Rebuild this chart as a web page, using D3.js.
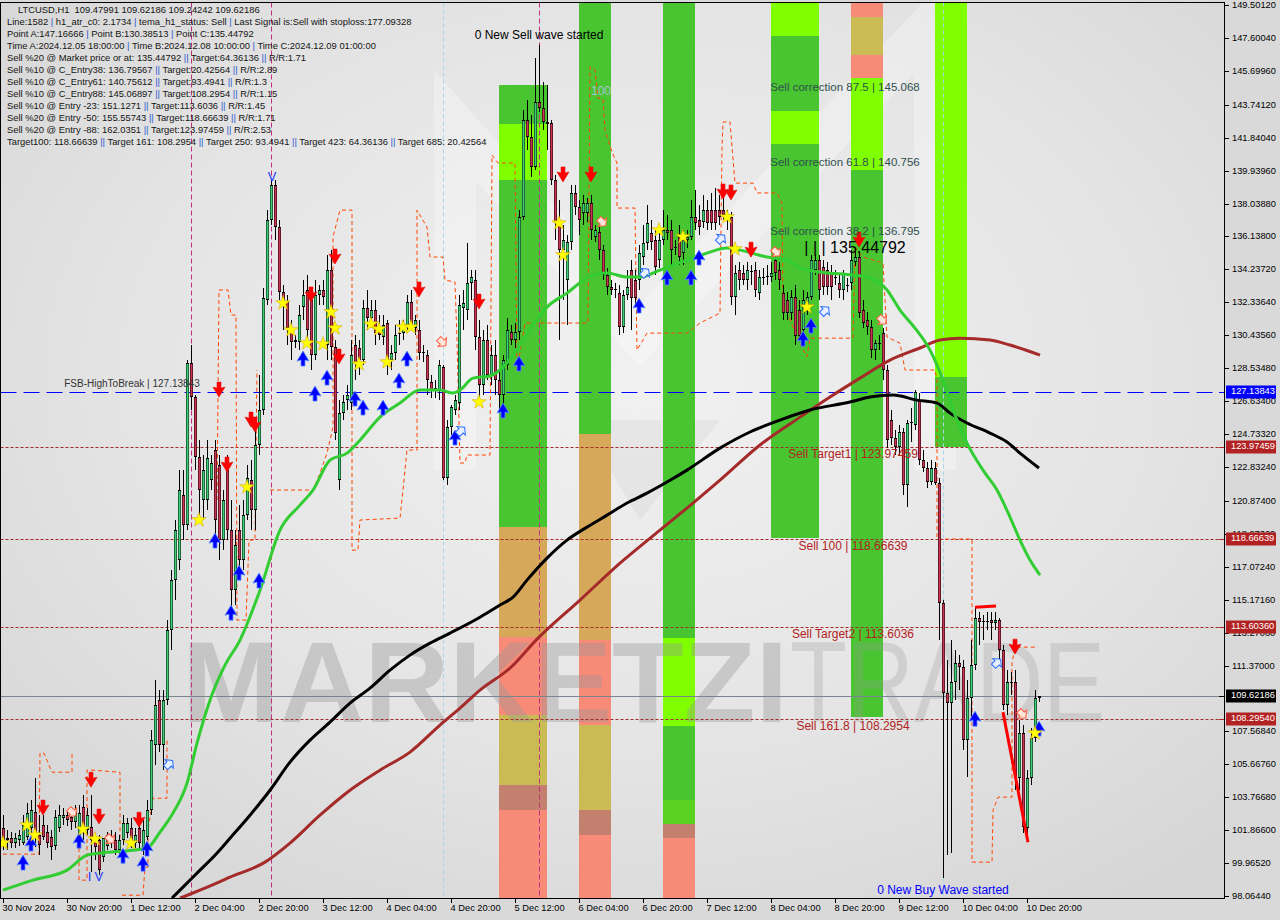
<!DOCTYPE html>
<html><head><meta charset="utf-8">
<script src="https://cdn.jsdelivr.net/npm/d3@7/dist/d3.min.js"></script>
<style>
html,body{margin:0;padding:0;background:#d9d9d9;}
svg{display:block;font-family:"Liberation Sans",Arial,sans-serif;}
text{white-space:pre;}
</style></head><body>
<svg id="chart" width="1280" height="920"></svg>
<script>
// ---------------- DATA ----------------
const headerLines = [
 "LTCUSD,H1  109.47991 109.62186 109.24242 109.62186",
 "Line:1582 | h1_atr_c0: 2.1734 | tema_h1_status: Sell | Last Signal is:Sell with stoploss:177.09328",
 "Point A:147.16666 | Point B:130.38513 | Point C:135.44792",
 "Time A:2024.12.05 18:00:00 | Time B:2024.12.08 10:00:00 | Time C:2024.12.09 01:00:00",
 "Sell %20 @ Market price or at: 135.44792 || Target:64.36136 || R/R:1.71",
 "Sell %10 @ C_Entry38: 136.79567 || Target:20.42564 || R/R:2.89",
 "Sell %10 @ C_Entry61: 140.75612 || Target:93.4941 || R/R:1.3",
 "Sell %10 @ C_Entry88: 145.06897 || Target:108.2954 || R/R:1.15",
 "Sell %10 @ Entry -23: 151.1271 || Target:113.6036 || R/R:1.45",
 "Sell %20 @ Entry -50: 155.55743 || Target:118.66639 || R/R:1.71",
 "Sell %20 @ Entry -88: 162.0351 || Target:123.97459 || R/R:2.53",
 "Target100: 118.66639 || Target 161: 108.2954 || Target 250: 93.4941 || Target 423: 64.36136 || Target 685: 20.42564"
];

// hourly bars, bar 0 = 30 Nov 2024 04:00
const opens = [
101.98,101.29,101.40,101.12,101.29,101.12,101.46,101.98,102.91,101.58,
102.16,101.75,101.46,100.96,101.98,102.56,102.73,102.62,102.33,101.46,
103.20,101.87,102.04,101.29,101.29,100.31,100.96,101.17,101.29,100.71,
101.29,101.69,101.98,101.12,101.98,100.71,101.46,103.02,106.77,109.37,
106.77,109.37,113.41,116.30,117.46,121.21,119.48,128.83,126.87,123.40,
120.92,120.92,122.07,123.81,122.94,118.61,122.65,119.19,115.72,119.19,
117.46,120.05,122.07,120.34,124.10,126.12,132.47,137.09,139.11,136.68,
132.93,132.35,130.85,130.04,130.04,132.06,133.05,132.47,129.29,132.76,
133.05,129.87,134.20,129.75,122.07,125.94,126.69,126.52,129.87,129.70,
129.00,132.00,131.43,131.89,130.85,130.33,131.14,129.00,129.41,130.56,
130.56,130.91,132.35,130.85,130.74,129.41,129.29,127.73,127.27,127.27,
128.60,122.19,125.13,126.12,126.52,132.00,131.89,133.45,133.62,130.33,
127.56,130.16,128.14,129.29,127.85,126.98,128.72,130.62,130.16,130.62,
137.26,142.86,141.88,140.15,143.90,143.55,142.75,142.69,139.40,136.91,
135.35,133.62,135.82,138.65,137.84,137.49,137.49,138.07,136.11,136.39,
135.35,133.91,133.22,133.05,132.87,130.91,132.76,134.20,133.62,133.62,
134.95,135.76,136.34,135.93,134.78,135.93,136.51,136.51,135.47,136.11,
135.18,135.93,136.11,137.26,137.09,136.97,137.66,137.66,137.66,137.66,
137.66,137.09,137.26,132.64,134.20,134.03,133.62,134.09,134.20,132.87,
133.80,133.80,133.80,134.78,134.20,132.87,132.47,131.72,132.64,131.89,
130.74,131.89,132.64,134.20,134.78,134.37,134.20,134.03,133.80,133.45,
133.05,133.33,133.45,134.66,134.95,131.89,131.31,130.91,129.58,129.99,
130.56,128.43,125.54,124.50,123.98,124.85,121.79,125.37,125.25,126.69,
123.23,122.77,121.96,122.77,121.90,114.97,109.78,109.20,110.41,111.51,
111.28,107.06,109.49,111.39,114.11,113.94,113.94,113.99,113.82,113.99,
112.26,109.08,110.41,110.41,104.87,107.47,101.98,104.87,107.18,109.47991];
const highs = [
102.73,101.87,101.75,101.69,101.87,102.73,103.43,103.60,104.87,102.73,
102.73,102.16,101.87,103.02,103.31,103.14,103.02,103.14,103.31,103.31,
103.89,103.14,103.89,101.58,101.58,101.40,101.75,101.87,101.75,101.58,
102.73,102.56,102.56,101.98,102.73,102.44,103.60,107.64,110.53,109.95,
109.95,113.99,116.88,119.77,122.65,122.65,128.99,129.87,126.98,124.38,
123.52,124.38,123.52,124.38,123.52,121.50,123.52,120.92,119.19,120.63,
120.92,122.94,123.23,125.54,128.14,133.16,137.66,139.40,139.40,137.09,
133.33,132.76,131.31,130.45,132.18,133.62,133.91,133.05,133.62,133.33,
133.62,135.07,135.35,130.16,126.69,126.98,127.56,130.16,130.45,130.16,
132.47,133.05,132.47,132.47,131.60,131.60,131.31,129.87,131.02,131.31,
131.31,132.76,133.05,131.60,131.31,129.87,129.58,128.14,127.85,129.00,
128.72,125.54,126.40,126.98,132.76,133.05,135.76,134.20,134.20,131.31,
130.74,131.02,129.87,130.16,128.43,129.29,131.43,131.02,131.14,137.66,
143.44,144.02,143.15,146.44,147.17,145.06,144.88,142.86,139.69,138.24,
136.80,136.22,139.11,139.11,138.24,138.53,138.36,138.53,136.80,136.80,
135.64,134.32,133.62,133.45,133.33,133.05,134.20,134.78,134.20,135.64,
136.80,137.95,137.09,136.51,136.51,137.66,137.38,137.09,135.93,136.80,
136.51,136.51,138.24,138.82,137.95,138.53,138.24,138.65,138.94,138.53,
138.82,137.66,137.55,134.49,134.66,134.49,134.66,134.49,134.66,134.20,
134.32,134.49,134.66,135.07,134.66,133.33,132.93,133.05,133.33,132.47,
133.05,132.93,135.07,135.07,135.07,134.78,134.66,134.49,134.20,133.91,
134.20,133.74,135.35,135.45,135.24,132.47,131.78,131.31,130.16,130.45,
130.85,128.72,126.12,124.96,125.25,125.08,125.54,126.23,127.30,127.10,
123.81,123.12,123.23,123.12,122.19,115.15,111.68,112.84,112.26,111.97,
111.68,110.53,112.84,114.68,114.45,114.28,114.45,114.45,114.45,114.11,
112.55,111.10,110.99,111.10,108.22,107.93,105.33,107.76,109.95,109.62186];
const lows = [
100.71,100.71,100.83,100.83,100.94,101.00,101.29,101.58,100.88,100.42,
101.29,100.83,100.13,100.71,101.75,102.16,102.10,101.87,101.98,101.29,
101.29,101.58,99.44,100.13,99.27,100.02,100.71,100.83,100.42,100.42,
101.00,101.40,100.83,100.83,100.71,100.42,101.29,102.73,105.62,106.37,
105.33,109.08,112.26,115.15,116.88,118.61,119.19,126.12,122.65,119.77,
119.77,120.34,121.50,118.32,117.46,118.03,118.61,113.99,114.86,116.59,
116.88,119.77,119.19,119.19,123.52,125.83,132.18,136.80,135.93,132.47,
130.74,129.87,129.00,129.70,129.58,131.31,130.16,128.43,129.00,132.18,
132.18,129.00,129.00,124.38,121.50,125.54,126.12,126.12,127.85,128.14,
128.72,130.74,131.02,129.87,130.16,129.87,128.14,128.43,129.00,129.87,
130.16,130.74,130.74,130.45,129.00,128.89,126.98,126.81,126.81,126.69,
122.07,121.79,124.67,125.83,126.12,130.74,131.31,132.47,129.58,126.69,
126.98,127.85,127.56,126.98,126.12,126.00,128.43,129.87,129.70,130.16,
137.09,141.13,139.57,139.97,143.32,142.28,141.13,139.11,135.93,130.16,
132.47,131.02,135.35,137.38,136.22,136.80,136.97,135.93,135.82,134.78,
133.62,132.76,132.76,132.58,130.45,130.56,132.47,130.74,132.18,133.05,
134.49,135.35,135.35,133.91,134.32,135.64,135.93,134.49,135.07,134.49,
134.49,135.47,135.93,136.51,136.22,136.62,136.51,136.51,136.51,136.80,
137.09,136.51,132.18,131.60,133.05,133.33,133.05,133.33,132.64,132.47,
133.33,133.33,133.51,133.62,133.05,131.31,131.31,131.31,129.87,130.16,
130.45,131.60,132.47,133.91,132.47,132.76,132.76,132.47,133.33,132.58,
132.47,132.93,133.05,134.43,131.43,130.85,130.45,129.12,129.00,129.58,
127.85,123.92,124.10,123.52,123.52,121.21,120.52,124.27,124.96,122.94,
122.54,121.61,121.79,121.79,112.84,99.10,100.42,100.54,109.37,109.95,
106.48,104.93,108.22,111.10,112.55,112.84,113.41,112.84,113.41,111.68,
108.79,108.51,109.66,104.17,104.17,101.69,101.58,104.46,106.95,109.24242];
const closes = [
101.29,101.40,101.12,101.40,101.58,102.16,102.85,103.02,101.58,101.00,
101.46,101.12,100.88,102.62,102.73,102.73,102.44,102.33,102.91,102.85,
101.75,102.73,101.29,100.88,99.56,101.40,101.58,101.40,100.71,101.29,
102.27,102.27,101.12,101.58,101.12,101.87,103.02,107.06,109.08,106.77,
109.37,113.41,116.30,119.19,121.50,119.48,128.83,126.87,123.40,121.50,
122.65,123.35,123.06,119.77,118.61,120.92,119.19,115.72,118.32,117.46,
120.05,122.19,120.34,124.10,126.12,132.58,137.09,139.11,136.68,132.93,
132.35,130.85,130.04,130.16,131.60,132.76,130.74,129.29,132.76,133.05,
132.64,134.20,129.75,124.79,125.94,126.58,126.98,129.29,128.83,129.00,
132.00,131.43,131.89,130.56,130.45,131.02,129.00,129.41,130.45,130.50,
130.91,132.35,131.02,131.31,129.41,129.47,127.85,127.27,127.39,128.72,
122.19,125.13,126.29,126.69,132.18,132.29,133.45,133.80,130.33,127.56,
130.16,128.14,129.29,127.85,126.98,129.00,130.74,130.16,130.62,137.26,
142.86,141.88,140.15,143.90,143.55,142.75,142.63,139.40,136.91,135.35,
135.93,135.82,138.65,137.84,137.09,138.07,138.07,136.51,136.51,135.35,
133.91,133.22,133.05,133.10,130.91,132.76,133.22,132.58,132.58,135.18,
135.76,136.91,135.82,134.37,135.93,136.51,136.34,135.35,135.53,134.95,
135.93,136.11,137.26,136.91,136.68,137.66,136.91,136.91,136.91,137.26,
137.38,137.26,132.64,134.03,133.62,133.62,134.20,134.14,133.05,133.80,
133.76,133.85,134.03,134.03,133.62,131.72,131.72,132.64,130.39,130.39,
132.47,132.64,134.78,134.78,133.05,133.22,133.22,133.22,133.76,133.05,
134.03,133.30,134.78,134.95,131.72,131.14,130.91,129.58,129.99,129.95,
128.43,124.38,124.50,123.98,124.85,121.79,125.37,125.42,127.16,123.23,
122.77,121.96,122.77,121.90,114.97,109.78,109.20,110.41,111.51,111.28,
107.06,109.49,111.39,114.11,113.88,113.92,113.96,113.82,113.99,112.26,
109.08,110.41,110.38,104.87,107.47,102.04,104.87,107.18,109.49,109.62186];

const timeTickBars = [0,16,32,48,64,80,96,112,128,144,160,176,192,208,224,240,256];
const timeTickLabels = ["30 Nov 2024","30 Nov 20:00","1 Dec 12:00","2 Dec 04:00","2 Dec 20:00","3 Dec 12:00","4 Dec 04:00","4 Dec 20:00","5 Dec 12:00","6 Dec 04:00","6 Dec 20:00","7 Dec 12:00","8 Dec 04:00","8 Dec 20:00","9 Dec 12:00","10 Dec 04:00","10 Dec 20:00"];
const priceTicks = [149.5012,147.6004,145.6996,143.7412,141.8404,139.9396,138.0388,136.1380,134.2372,132.3364,130.4356,128.5348,126.6340,124.7332,122.8324,120.8740,118.9732,117.0724,115.1716,113.2708,111.3700,107.5684,105.6676,103.7668,101.8660,99.9652,98.0644];

// moving averages: [bar, price]
const maGreen = [[0,98.40],[7.5,98.98],[16,99.56],[21,100.42],[24.25,100.54],[32.5,100.71],[36,100.83],[39.25,101.75],[42.5,102.85],[46,104.58],[48.5,106.89],[51.75,109.37],[55.5,111.39],[59.25,112.84],[64.25,115.72],[69.25,119.19],[74.25,120.63],[77.5,121.50],[81.75,123.23],[86,123.63],[89.25,124.38],[94.25,125.71],[99.25,126.52],[104.25,127.27],[109.25,127.27],[112.5,127.10],[114.25,127.27],[117.5,127.96],[121.75,128.08],[125.5,128.71],[129.25,129.87],[133,131.20],[136,132.06],[141,132.87],[146,133.74],[151,134.03],[156,133.80],[159.25,133.80],[164.25,134.20],[171,134.78],[176,135.18],[181,135.47],[184.25,135.35],[191,134.95],[196,134.78],[199.25,134.32],[204.25,134.09],[212.5,133.91],[216,133.80],[221,133.05],[224.25,131.89],[228,130.85],[231.75,129.58],[235,127.85],[238,125.83],[241,124.21],[245,122.65],[248.5,121.50],[251.75,119.94],[254.25,118.61],[256.75,117.46],[259.25,116.59]];
const maBlack = [[42.25,97.94],[45.5,98.69],[49.25,99.56],[53,100.42],[56.75,101.40],[61.75,102.73],[66.75,104.17],[71.75,105.79],[76.75,107.06],[81.75,108.10],[86.75,109.20],[91.75,110.06],[96.75,111.10],[101.75,111.97],[106.75,112.66],[111.75,113.24],[119.25,114.16],[124.25,114.86],[127.5,115.32],[131,116.30],[136,117.57],[141,118.61],[146,119.36],[151,120.05],[156,120.75],[161,121.32],[166,121.96],[171,122.65],[179.25,123.92],[186.75,124.85],[194.25,125.54],[201.75,126.12],[211.75,126.58],[216.75,126.87],[222.5,126.98],[228.5,126.69],[233.5,126.52],[236.75,125.94],[241,125.37],[246.75,124.79],[251,124.27],[254.25,123.63],[259,122.77]];
const maBrown = [[44.25,97.94],[49.25,98.40],[56.75,99.15],[65.5,100.02],[71.75,101.12],[79.25,102.73],[86.75,104.17],[94.25,105.33],[101.75,106.37],[109.25,107.93],[114.25,108.91],[119.25,109.95],[126.75,111.22],[133.75,112.95],[144.25,115.15],[154.25,117.28],[164.25,119.19],[172.5,120.75],[179.25,122.07],[189.25,124.10],[199.25,125.71],[206.75,126.87],[214.25,127.96],[221.75,129.00],[229.25,129.70],[234.25,130.16],[239.25,130.27],[246.75,130.16],[251.75,129.87],[259.25,129.29]];

// orange dashed envelope segments: [bar, price]
const orangePaths = [
 [[0,100.48],[9,100.48],[9.25,106.31],[10.25,106.31],[12.25,105.21],[17.25,105.21],[17.25,106.31]],
 [[19,102.44],[19,98.98],[21,98.98],[21,105.33],[22.25,105.33],[29.25,105.21],[29.25,100.42]],
 [[29.75,98.11],[35,98.11],[35.5,99.73],[36.25,99.73],[36.25,101.87],[37.5,103.71],[41,103.71],[41,107.06]],
 [[53.5,120.92],[54,133.05],[56.25,133.05],[57,131.60],[58.25,131.60],[58.5,113.99],[60.75,113.99],[61.5,118.61],[63,118.61],[63.5,128.43]],
 [[66.75,121.50],[77.5,121.50],[79.25,122.48],[81,123.63],[82.5,125.14],[82.5,136.11],[84.25,137.66],[87.25,137.66],[87.25,118.03],[88.75,118.03],[89.25,119.77],[99.25,119.88],[100,121.50],[101,123.81],[103.5,123.81],[103.5,137.66],[106,136.68],[106.75,134.95],[110,134.95],[110.5,133.62],[113,133.51],[113.5,130.16],[114.25,123.06],[115.5,123.06],[116,123.52],[121.75,123.52],[122.25,140.84],[123.75,140.38],[128,140.38],[128.5,128.43]],
 [[128.5,128.43],[130.5,131.14],[146.25,131.14],[146.75,145.92],[148,145.75],[148.75,144.13],[150,144.07],[150.5,142.28],[152.25,141.01],[153.5,140.38],[153.5,137.78],[158,137.78],[158.5,129.58],[161,130.56],[171,130.56],[174.25,131.14],[179.25,131.72],[179.75,141.30],[180,142.75],[181.75,142.75],[183,139.22],[187.5,139.22],[188.5,138.65],[193.5,138.65],[194.75,138.07],[195,132.29],[199.25,129.98],[201,129.18],[201.75,130.27],[212.5,130.27],[213,135.53],[215,134.95],[220,134.60],[221,130.33],[224.25,129.98],[225.5,128.43],[233,128.43],[233.5,127.85],[233.5,118.67],[242.25,118.67],[242.25,100.02],[247.25,100.02],[247.5,103.02],[248.75,103.77],[252.25,103.77],[252.25,111.51],[253,112.43],[258.75,112.43]]
];

// coloured time zones (bar ranges) and their price bands
const zoneSpans = [[124,136],[144,152],[165,173],[192,204],[212,220],[233,241]];
const zoneBands = [
 [[144.88,142.63,"g"],[142.63,139.40,"l"],[139.40,119.36,"g"],[119.36,113.01,"t"],[113.01,108.51,"s"],[108.51,104.46,"o"],[104.46,103.02,"b"],[103.02,97.9,"s"]],
 [[149.62,124.73,"g"],[124.73,112.84,"t"],[112.84,107.93,"s"],[107.93,103.02,"o"],[103.02,101.58,"b"],[101.58,97.9,"s"]],
 [[149.62,112.95,"g"],[112.95,107.87,"l"],[107.87,103.60,"g"],[103.60,102.21,"g2"],[102.21,101.40,"b"],[101.40,97.9,"s"]],
 [[149.62,147.7,"l"],[147.7,143.4,"g"],[143.4,141.5,"l"],[141.5,118.73,"g"]],
 [[149.62,148.8,"s"],[148.8,146.6,"o"],[146.6,145.3,"s"],[145.3,140.0,"l"],[140.0,108.39,"g"]],
 [[149.62,128.0,"l"],[128.0,123.98,"g"]]
];

// horizontal levels
const fsbLevel = 127.13843;
const sellLevels = [123.97459,118.66639,113.60360,108.29540];
const sellLabels = ["Sell Target1 | 123.97459","Sell 100 | 118.66639","Sell Target2 | 113.6036","Sell 161.8 | 108.2954"];
const axisBoxLabels = ["123.97459","118.66639","113.60360","108.29540"];
const corrLevels = [145.068,140.756,136.795];
const corrLabels = ["Sell correction 87.5 | 145.068","Sell correction 61.8 | 140.756","Sell correction 38.2 | 136.795"];
const lastPrice = 109.62186;
const pointCPrice = 135.44792;

// vertical markers (bars)
const magentaBars = [47,67,134];
const cyanBars = [110,235];

// signals: [bar, price]
const sellArrows = [[10,103.14],[22,104.75],[24,102.62],[34,102.44],[54,127.27],[56,122.94],[62,125.54],[63,125.25],[77,132.76],[83,134.95],[84,129.18],[104,133.05],[119,132.35],[140,139.69],[147,139.69],[180,138.70],[182,138.65],[187,135.35],[214,135.93],[253,112.43]];
const buyArrows = [[5,100.02],[7,101.12],[19,101.29],[30,100.42],[35,99.96],[36,100.83],[53,118.61],[57,114.45],[59,116.76],[64,116.30],[75,129.12],[78,127.10],[81,128.02],[88,126.81],[90,126.29],[95,126.29],[99,127.85],[101,129.12],[113,124.56],[125,126.12],[129,128.83],[159,132.18],[166,133.80],[172,133.80],[174,134.95],[200,130.27],[202,131.02],[243,108.33],[259,107.76]];
const stars = [[0,101.12],[6,102.16],[8,101.58],[20,101.92],[23,101.35],[32,101.12],[49,119.77],[61,121.67],[70,132.29],[72,130.74],[76,129.99],[80,129.93],[82,131.78],[83,130.85],[89,128.77],[92,131.08],[94,130.79],[96,128.89],[100,130.91],[102,130.91],[119,126.58],[139,136.91],[140,135.07],[164,136.51],[170,136.11],[181,137.26],[183,135.41],[201,132.06],[258,107.47]];
const sellHollow = [[17.5,103.02],[27,101.46],[110,130.16],[150,137.09],[193.5,135.35],[220,131.43],[255,108.68]];
const buyHollow = [[41,105.73],[114,124.96],[160,134.09],[179,136.05],[205,131.89],[248,111.57]];
const redLines = [[[243,114.74],[248.25,114.80]],[[250,108.68],[256.25,101.17]]];
const waveLabels = [["V",67.25,139.55],["IV",23.5,99.1]];

// ---------------- DRAW ----------------
const svg = d3.select("#chart");
const PL=0.5, PR=1224.5, PT=2.5, PB=898.5;
const x = d3.scaleLinear().domain([0,259]).range([3,1039]);
const y = d3.scaleLinear().domain([98.0644,149.5012]).range([896,5]);

const defs = svg.append("defs");
const rg = defs.append("radialGradient").attr("id","bg").attr("cx","52%").attr("cy","42%").attr("r","70%");
rg.append("stop").attr("offset","0%").attr("stop-color","#f1f1f1");
rg.append("stop").attr("offset","60%").attr("stop-color","#e4e4e4");
rg.append("stop").attr("offset","100%").attr("stop-color","#d6d6d6");
defs.append("clipPath").attr("id","clip").append("rect").attr("x",PL).attr("y",PT).attr("width",PR-PL).attr("height",PB-PT);

svg.append("rect").attr("width",1280).attr("height",920).attr("fill","#d9d9d9");
svg.append("rect").attr("x",PL).attr("y",PT).attr("width",PR-PL).attr("height",PB-PT).attr("fill","url(#bg)");

const plot = svg.append("g").attr("clip-path","url(#clip)");

// big faint logo
const logo = plot.append("g").attr("fill","none").attr("stroke-linejoin","miter");
logo.append("path").attr("d","M455,470 L455,125 L640,335 L935,20 L935,470")
  .attr("stroke","rgba(255,255,255,0.28)").attr("stroke-width",42);
logo.append("path").attr("d","M580,420 L640,520 L720,420 Z").attr("fill","rgba(0,0,0,0.035)");

// zones
const zoneColor = {g:"#48c530",l:"#7fff00",t:"#d6a95a",s:"#f88b78",o:"#cbbb55",b:"#c4806e",g2:"#5ad222"};
const zg = plot.append("g").attr("shape-rendering","crispEdges");
zoneSpans.forEach((sp,k)=>{
  zoneBands[k].forEach(b=>{
    zg.append("rect").attr("x",x(sp[0])).attr("width",x(sp[1])-x(sp[0]))
      .attr("y",y(b[0])).attr("height",y(b[1])-y(b[0])).attr("fill",zoneColor[b[2]]);
  });
});

// watermark
plot.append("text").attr("x",182).attr("y",722).attr("font-size",115).attr("font-weight","bold")
  .attr("textLength",606).attr("lengthAdjust","spacingAndGlyphs")
  .attr("fill","rgba(150,150,150,0.38)").text("MARKETZI");
plot.append("text").attr("x",790).attr("y",722).attr("font-size",115)
  .attr("textLength",315).attr("lengthAdjust","spacingAndGlyphs")
  .attr("fill","rgba(150,150,150,0.28)").text("TRADE");

// vertical lines
magentaBars.forEach(b=>plot.append("line").attr("x1",x(b)+0.5).attr("x2",x(b)+0.5).attr("y1",PT).attr("y2",PB)
  .attr("stroke","#c0307a").attr("stroke-dasharray","5,3"));
cyanBars.forEach(b=>plot.append("line").attr("x1",x(b)+0.5).attr("x2",x(b)+0.5).attr("y1",PT).attr("y2",PB)
  .attr("stroke","#a9d6e6").attr("stroke-dasharray","4,3"));

// horizontal levels
plot.append("line").attr("x1",PL).attr("x2",PR).attr("y1",Math.round(y(fsbLevel))+0.5).attr("y2",Math.round(y(fsbLevel))+0.5)
  .attr("stroke","#0000ff").attr("stroke-dasharray","16,7");
sellLevels.forEach(v=>plot.append("line").attr("x1",PL).attr("x2",PR).attr("y1",Math.round(y(v))+0.5).attr("y2",Math.round(y(v))+0.5)
  .attr("stroke","#a52a2a").attr("stroke-dasharray","3,2"));
plot.append("line").attr("x1",PL).attr("x2",PR).attr("y1",Math.round(y(lastPrice))+0.5).attr("y2",Math.round(y(lastPrice))+0.5)
  .attr("stroke","#7b8591");

// orange envelope
const lineGen = d3.line().x(d=>x(d[0])).y(d=>y(d[1]));
orangePaths.forEach(p=>plot.append("path").attr("d",lineGen(p)).attr("fill","none")
  .attr("stroke","#ff4500").attr("stroke-width",1).attr("stroke-dasharray","4,3"));

// candles
const bars = d3.range(opens.length).map(i=>({i,o:opens[i],h:highs[i],l:lows[i],c:closes[i]}));
const cg = plot.append("g");
cg.selectAll("rect.wick").data(bars).join("rect").attr("class","wick").attr("shape-rendering","crispEdges")
  .attr("x",d=>Math.round(x(d.i))).attr("width",1)
  .attr("y",d=>Math.round(y(d.h))).attr("height",d=>Math.max(1,Math.round(y(d.l))-Math.round(y(d.h))))
  .attr("fill","#000");
cg.selectAll("rect.body").data(bars).join("rect").attr("class","body").attr("shape-rendering","crispEdges")
  .attr("x",d=>Math.round(x(d.i))-1).attr("width",3)
  .attr("y",d=>Math.round(Math.min(y(d.o),y(d.c))))
  .attr("height",d=>Math.max(1,Math.round(Math.abs(y(d.o)-y(d.c)))))
  .attr("fill","#000");
cg.selectAll("rect.fill").data(bars.filter(d=>Math.abs(y(d.o)-y(d.c))>2.5)).join("rect").attr("class","fill")
  .attr("x",d=>Math.round(x(d.i))-0.5).attr("width",2)
  .attr("y",d=>Math.round(Math.min(y(d.o),y(d.c)))+1)
  .attr("height",d=>Math.round(Math.abs(y(d.o)-y(d.c)))-2)
  .attr("fill",d=>d.c>=d.o?"#3ccf78":"#cc3352");

// moving averages
const smooth = d3.line().x(d=>x(d[0])).y(d=>y(d[1])).curve(d3.curveMonotoneX);
plot.append("path").attr("d",smooth(maBrown)).attr("fill","none").attr("stroke","#a52a2a").attr("stroke-width",3);
plot.append("path").attr("d",smooth(maBlack)).attr("fill","none").attr("stroke","#000").attr("stroke-width",3);
plot.append("path").attr("d",smooth(maGreen)).attr("fill","none").attr("stroke","#32cd32").attr("stroke-width",3);

// thick red pattern lines
redLines.forEach(l=>plot.append("path").attr("d",lineGen(l)).attr("stroke","#ff0000").attr("stroke-width",3).attr("fill","none"));

// markers
const mg = plot.append("g");
sellArrows.forEach(([b,p])=>{
  const cx=x(b), cy=y(p);
  mg.append("path").attr("d",`M${cx-2},${cy-8} L${cx+2},${cy-8} L${cx+2},${cy-2} L${cx+6},${cy-3} L${cx},${cy+7} L${cx-6},${cy-3} L${cx-2},${cy-2} Z`)
    .attr("fill","#ff0000").attr("stroke","#e01010").attr("stroke-width",0.6);
});
buyArrows.forEach(([b,p])=>{
  const cx=x(b), cy=y(p);
  mg.append("path").attr("d",`M${cx-2},${cy+8} L${cx+2},${cy+8} L${cx+2},${cy+2} L${cx+6},${cy+3} L${cx},${cy-7} L${cx-6},${cy+3} L${cx-2},${cy+2} Z`)
    .attr("fill","#0000ff").attr("stroke","#5a8cff").attr("stroke-width",0.8);
});
const starPath = d3.symbol().type(d3.symbolStar).size(65);
stars.forEach(([b,p])=>mg.append("path").attr("d",starPath()).attr("transform",`translate(${x(b)},${y(p)})`)
  .attr("fill","#ffff00").attr("stroke","#d0a000").attr("stroke-width",0.5));
const hollowArrow = "M-4,-1 L1,-1 L1,-4 L6,2 L1,8 L1,5 L-4,5 Z";
sellHollow.forEach(([b,p])=>mg.append("path").attr("d",hollowArrow)
  .attr("transform",`translate(${x(b)},${y(p)}) rotate(45)`).attr("fill","#ffe4dc").attr("stroke","#ff5a3c").attr("stroke-width",1));
buyHollow.forEach(([b,p])=>mg.append("path").attr("d",hollowArrow)
  .attr("transform",`translate(${x(b)},${y(p)}) rotate(-45)`).attr("fill","#e6f0ff").attr("stroke","#2a6cff").attr("stroke-width",1));
waveLabels.forEach(([t,b,p])=>mg.append("text").attr("x",x(b)).attr("y",y(p)).attr("text-anchor","middle")
  .attr("dominant-baseline","middle").attr("font-size",13).attr("letter-spacing",t==="IV"?3:0).attr("fill","#1a3cff").text(t));

// texts on chart
const tg = plot.append("g");
tg.append("text").attr("x",x(32.25)).attr("y",y(fsbLevel)-5).attr("text-anchor","middle").attr("font-size",10)
  .attr("fill","#333").text("FSB-HighToBreak | 127.13843");
sellLevels.forEach((v,k)=>tg.append("text").attr("x",x(212.5)).attr("y",y(v)+8).attr("text-anchor","middle")
  .attr("dominant-baseline","middle").attr("font-size",12).attr("fill","#b22222").text(sellLabels[k]));
corrLevels.forEach((v,k)=>tg.append("text").attr("x",x(210.5)).attr("y",y(v)+6.5).attr("text-anchor","middle")
  .attr("dominant-baseline","middle").attr("font-size",11.5).attr("fill","#2f4f4f").text(corrLabels[k]));
tg.append("text").attr("x",x(213)).attr("y",y(pointCPrice)).attr("text-anchor","middle").attr("dominant-baseline","middle")
  .attr("font-size",16).attr("fill","#000").text("| | | 135.44792");
tg.append("text").attr("x",x(134)).attr("y",36).attr("text-anchor","middle").attr("dominant-baseline","middle")
  .attr("font-size",12).attr("fill","#000").text("0 New Sell wave started");
tg.append("text").attr("x",x(235)).attr("y",891).attr("text-anchor","middle").attr("dominant-baseline","middle")
  .attr("font-size",12).attr("fill","#0000ff").text("0 New Buy Wave started");
tg.append("text").attr("x",x(149.5)).attr("y",92).attr("text-anchor","middle").attr("dominant-baseline","middle")
  .attr("font-size",12).attr("fill","#a9c0cf").text("100");

// header block
const hg = svg.append("g").attr("font-size",9.4).attr("fill","#141414");
headerLines.forEach((ln,k)=>{
  const t = hg.append("text").attr("x",k===0?18:7).attr("y",11+12*k).attr("dominant-baseline","middle");
  ln.split(/(\|+)/).forEach(part=>{
    if(!part) return;
    t.append("tspan").attr("fill",part.startsWith("|")?"#2a55d0":"#141414").text(part);
  });
});

// frame
svg.append("rect").attr("x",PL).attr("y",PT).attr("width",PR-PL).attr("height",PB-PT)
  .attr("fill","none").attr("stroke","#000").attr("shape-rendering","crispEdges");

// right axis
const ax = svg.append("g").attr("font-size",9.3).attr("fill","#000");
priceTicks.forEach(v=>{
  const yy=Math.round(y(v))+0.5;
  ax.append("line").attr("x1",1224).attr("x2",1229).attr("y1",yy).attr("y2",yy).attr("stroke","#000");
  ax.append("text").attr("x",1232).attr("y",yy).attr("dominant-baseline","middle").text(v.toFixed(5));
});
function axisBox(v,label,color){
  const yy=Math.round(y(v));
  svg.append("line").attr("x1",1219).attr("x2",1224).attr("y1",yy+0.5).attr("y2",yy+0.5).attr("stroke",color);
  svg.append("rect").attr("x",1226).attr("y",yy-6.5).attr("width",50).attr("height",13).attr("fill",color);
  svg.append("text").attr("x",1231).attr("y",yy).attr("dominant-baseline","middle").attr("font-size",9.3)
    .attr("fill","#fff").text(label);
}
axisBox(fsbLevel,"127.13843","#0000ff");
sellLevels.forEach((v,k)=>axisBox(v,axisBoxLabels[k],"#b22222"));
axisBox(lastPrice,"109.62186","#000");

// bottom axis
const bx = svg.append("g").attr("font-size",9.3).attr("fill","#000");
timeTickBars.forEach((b,k)=>{
  const xx=Math.round(x(b))+0.5;
  bx.append("line").attr("x1",xx).attr("x2",xx).attr("y1",898).attr("y2",903).attr("stroke","#000");
  bx.append("text").attr("x",xx-1).attr("y",909).attr("dominant-baseline","middle").text(timeTickLabels[k]);
});
</script>
</body></html>
